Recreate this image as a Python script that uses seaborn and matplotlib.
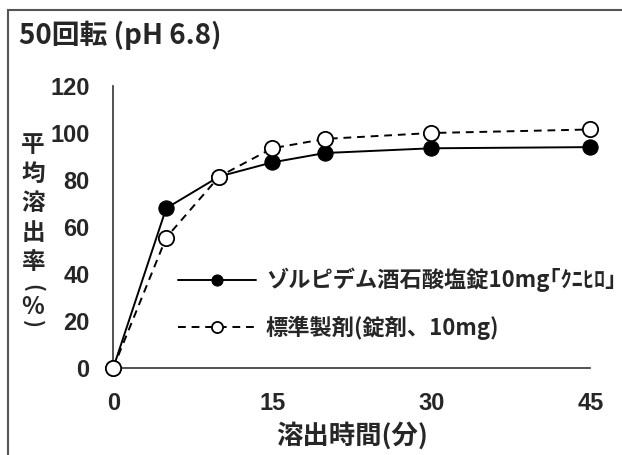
import matplotlib
matplotlib.use("Agg")
import matplotlib.pyplot as plt
from matplotlib.patches import Rectangle
import pandas as pd
import seaborn as sns

# 溶出データ
tiempo = [0, 5, 10, 15, 20, 30, 45]
kunihiro = [0, 68, 81.5, 87.5, 91.5, 93.5, 94]
hyojun = [0, 55.5, 81.5, 93.5, 97.5, 100, 101.5]
etiquetas = ["ゾルピデム酒石酸塩錠10mg｢ｸﾆﾋﾛ｣", "標準製剤(錠剤、10mg)"]
xticks = [0, 15, 30, 45]
yticks = [0, 20, 40, 60, 80, 100, 120]

sns.set_style("white")
plt.rcParams['font.family'] = ['Noto Sans CJK JP', 'DejaVu Sans']

df1 = pd.DataFrame({"t": tiempo, "v": kunihiro})
df2 = pd.DataFrame({"t": tiempo, "v": hyojun})

fig = plt.figure(figsize=(6.22, 4.55), dpi=100)
ax = fig.add_axes([0.182, 0.191, 0.767, 0.62])

sns.lineplot(data=df1, x="t", y="v", ax=ax, color="black", lw=1.4,
             marker="o", markersize=11, markerfacecolor="black",
             markeredgecolor="black", label=etiquetas[0], clip_on=False, zorder=3)
sns.lineplot(data=df2, x="t", y="v", ax=ax, color="black", lw=1.4, linestyle="--",
             marker="o", markersize=11, markerfacecolor="white",
             markeredgecolor="black", markeredgewidth=1.3,
             label=etiquetas[1], clip_on=False, zorder=4)
ax.lines[1].set_dashes([4, 3])

ax.set_xlim(0, 45)
ax.set_ylim(0, 120)
ax.set_xticks(xticks)
ax.set_yticks(yticks)
fuente = dict(fontfamily='Liberation Sans', fontweight='bold', fontsize=17)
ax.set_xticklabels([str(v) for v in xticks], **fuente)
ax.set_yticklabels([str(v) for v in yticks], **fuente)
ax.tick_params(axis='y', direction='out', length=5, width=1, color='#333333', pad=12)
ax.tick_params(axis='x', direction='out', length=5, width=1, color='#333333', pad=12)
sns.despine(ax=ax)
for s in ['left', 'bottom']:
    ax.spines[s].set_color('#333333')
    ax.spines[s].set_linewidth(1.2)

ax.set_xlabel("溶出時間(分)", fontsize=19, fontweight='bold', labelpad=5)
ax.set_ylabel("")
# 縦書きのラベル
fig.text(0.053, 0.553, "平\n均\n溶\n出\n率", fontsize=17, fontweight='bold',
         ha='center', va='center', linespacing=1.27)
fig.text(0.053, 0.367, "(", fontsize=15, fontweight='bold', rotation=-90,
         ha='center', va='center')
fig.text(0.053, 0.325, "%", fontsize=17, fontweight='bold', ha='center', va='center')
fig.text(0.053, 0.288, ")", fontsize=15, fontweight='bold', rotation=-90,
         ha='center', va='center')

fig.text(0.03, 0.923, "50回転 (pH 6.8)", fontsize=20, fontweight='bold', ha='left', va='center')

leg = ax.legend(loc='center left', bbox_to_anchor=(0.136, 0.227), frameon=False,
                handlelength=3.5, labelspacing=1.05, handletextpad=0.45,
                borderpad=0, borderaxespad=0,
                prop={'weight': 'bold', 'size': 16})
for h in leg.legend_handles:
    h.set_markersize(8)

fig.add_artist(Rectangle((0.013, -0.01), 1.0, 0.988, transform=fig.transFigure,
                         fill=False, edgecolor='#555555', lw=1.5))

fig.savefig("out.png", dpi=100)
